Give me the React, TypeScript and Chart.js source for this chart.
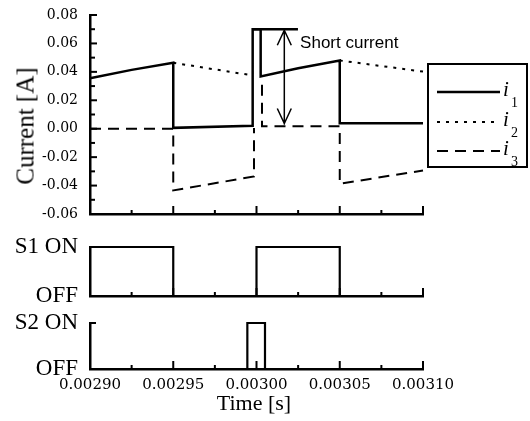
import React, { useEffect, useRef } from 'react';
import { Chart, registerables } from 'chart.js';

Chart.register(...registerables);

// ---------- data ----------
const i1Time = [0.0029, 0.002925, 0.00295, 0.00295, 0.0029977, 0.0029977, 0.0030025, 0.0030025, 0.003025, 0.00305, 0.00305, 0.0031];
const i1Value = [0.0355, 0.0414, 0.0464, 0.0006, 0.002, 0.07, 0.07, 0.0368, 0.0425, 0.048, 0.0038, 0.0038];

const i2Time = [0.00295, 0.0029977, 0.003025, 0.00305, 0.0031];
const i2Value = [0.0464, 0.0375, null, 0.048, 0.0402];

const i3Time = [0.0029, 0.00295, 0.00295, 0.0029985, 0.0029985, 0.003001, 0.0030033, 0.0030033, 0.00305, 0.00305, 0.0031];
const i3Value = [0.0, 0.0, -0.0434, -0.0336, 0.0005, null, 0.031, 0.0018, 0.0018, -0.0387, -0.0294];

const s1Time = [0.0029, 0.00295, 0.00295, 0.003, 0.003, 0.00305, 0.00305, 0.0031];
const s1State = [1, 1, 0, 0, 1, 1, 0, 0];

const s2Time = [0.0029, 0.0029945, 0.0029945, 0.0030051, 0.0030051, 0.0031];
const s2State = [0, 0, 1, 1, 0, 0];

const xTickValues = [0.0029, 0.00295, 0.003, 0.00305, 0.0031];
const xTickLabels = ['0.00290', '0.00295', '0.00300', '0.00305', '0.00310'];
const xMinorValues = [0.002925, 0.002975, 0.003025, 0.003075];

const currentTickValues = [-0.06, -0.04, -0.02, 0.0, 0.02, 0.04, 0.06, 0.08];
const currentTickLabels = ['-0.06', '-0.04', '-0.02', '0.00', '0.02', '0.04', '0.06', '0.08'];
const currentMinorValues = [-0.05, -0.03, -0.01, 0.01, 0.03, 0.05, 0.07];

const switchTickValues = [0, 1];
const s1TickLabels = ['OFF', 'S1 ON'];
const s2TickLabels = ['OFF', 'S2 ON'];

const seriesSubscripts = ['1', '2', '3'];

const shortLabel = 'Short current';
const shortArrowX = 0.0030167;
const shortTop = 0.07;
const shortBottom = 0.003;
const shortBarStart = 0.0029977;
const shortBarEnd = 0.0030249;
const shortTextX = 0.0030262;
const shortTextY = 0.0603;

// ---------- styles ----------
const BLACK = '#000';
const AXIS_W = 2.5;
const DASH_I2 = [3, 6];
const DASH_I3 = [11, 7];
const SERIF = '"Liberation Serif", "Times New Roman", serif';
const NUMFONT = '"DejaVu Serif", serif';

const pts = (t: number[], v: (number | null)[]) => t.map((x, i) => ({ x, y: v[i] }));

function ticksPlugin(cfg: { yMajor: number[]; yMinor: number[]; yMajorLen: number; yMinorLen: number }) {
  return {
    id: 'inwardTicks',
    afterDatasetsDraw(chart: any) {
      const ctx = chart.ctx;
      const { left, bottom } = chart.chartArea;
      const xs = chart.scales.x;
      const ys = chart.scales.y;
      ctx.save();
      ctx.strokeStyle = BLACK;
      ctx.lineWidth = 2;
      ctx.lineCap = 'butt';
      const vx = (vals: number[], len: number) =>
        vals.forEach((v) => {
          const p = xs.getPixelForValue(v);
          ctx.beginPath();
          ctx.moveTo(p, bottom);
          ctx.lineTo(p, bottom - len);
          ctx.stroke();
        });
      const vy = (vals: number[], len: number) =>
        vals.forEach((v) => {
          const p = ys.getPixelForValue(v);
          ctx.beginPath();
          ctx.moveTo(left, p);
          ctx.lineTo(left + len, p);
          ctx.stroke();
        });
      vx(xTickValues, 8);
      vx(xMinorValues, 4);
      vy(cfg.yMajor, cfg.yMajorLen);
      vy(cfg.yMinor, cfg.yMinorLen);
      ctx.restore();
    },
  };
}

const annotationPlugin = {
  id: 'shortCurrent',
  afterDatasetsDraw(chart: any) {
    const ctx = chart.ctx;
    const xs = chart.scales.x;
    const ys = chart.scales.y;
    const ax = xs.getPixelForValue(shortArrowX);
    const yt = ys.getPixelForValue(shortTop);
    const yb = ys.getPixelForValue(shortBottom);
    ctx.save();
    ctx.strokeStyle = BLACK;
    ctx.lineWidth = 2.5;
    ctx.beginPath();
    ctx.moveTo(xs.getPixelForValue(shortBarStart), yt);
    ctx.lineTo(xs.getPixelForValue(shortBarEnd), yt);
    ctx.stroke();
    ctx.lineWidth = 1.5;
    ctx.beginPath();
    ctx.moveTo(ax, yt);
    ctx.lineTo(ax, yb);
    ctx.moveTo(ax - 7, yt + 16);
    ctx.lineTo(ax, yt + 1);
    ctx.lineTo(ax + 7, yt + 16);
    ctx.moveTo(ax - 7, yb - 16);
    ctx.lineTo(ax, yb - 1);
    ctx.lineTo(ax + 7, yb - 16);
    ctx.stroke();
    ctx.fillStyle = BLACK;
    ctx.font = '17px "Liberation Sans", Arial, sans-serif';
    ctx.textAlign = 'left';
    ctx.textBaseline = 'middle';
    ctx.fillText(shortLabel, xs.getPixelForValue(shortTextX), ys.getPixelForValue(shortTextY));
    ctx.restore();
  },
};

function xScale(showLabels: boolean, height: number) {
  return {
    type: 'linear',
    min: 0.0029,
    max: 0.0031,
    afterBuildTicks: (s: any) => {
      s.ticks = xTickValues.map((v) => ({ value: v }));
    },
    afterFit: (s: any) => {
      s.height = height;
      s.paddingLeft = 0;
      s.paddingRight = 0;
      s.paddingTop = 0;
      s.paddingBottom = 0;
    },
    grid: { display: false, drawTicks: false },
    border: { display: true, color: BLACK, width: AXIS_W },
    ticks: {
      display: showLabels,
      autoSkip: false,
      maxRotation: 0,
      minRotation: 0,
      padding: 7,
      color: BLACK,
      font: { family: NUMFONT, size: 15 },
      callback: (_v: any, i: number) => xTickLabels[i],
    },
  };
}

function yScale(min: number, max: number, values: number[], labels: string[], font: any, padding: number) {
  return {
    type: 'linear',
    min,
    max,
    afterBuildTicks: (s: any) => {
      s.ticks = values.map((v) => ({ value: v }));
    },
    afterFit: (s: any) => {
      s.width = 90;
      s.paddingLeft = 0;
      s.paddingRight = 0;
      s.paddingTop = 0;
      s.paddingBottom = 0;
    },
    grid: { display: false, drawTicks: false },
    border: { display: true, color: BLACK, width: AXIS_W },
    ticks: {
      padding,
      color: BLACK,
      font,
      callback: (_v: any, i: number) => labels[i],
    },
  };
}

const common = {
  responsive: false,
  animation: false as const,
  devicePixelRatio: 1,
  events: [] as any[],
};

export default function App() {
  const topRef = useRef<HTMLCanvasElement>(null);
  const s1Ref = useRef<HTMLCanvasElement>(null);
  const s2Ref = useRef<HTMLCanvasElement>(null);

  useEffect(() => {
    const lineDefaults = {
      borderColor: BLACK,
      pointRadius: 0,
      tension: 0,
      fill: false,
      spanGaps: false,
      clip: false as const,
      borderJoinStyle: 'miter' as const,
      borderCapStyle: 'butt' as const,
    };
    const top = new Chart(topRef.current!, {
      type: 'line',
      data: {
        datasets: [
          { ...lineDefaults, label: 'i1', data: pts(i1Time, i1Value), borderWidth: 2.5 },
          { ...lineDefaults, label: 'i2', data: pts(i2Time, i2Value), borderWidth: 2, borderDash: DASH_I2 },
          { ...lineDefaults, label: 'i3', data: pts(i3Time, i3Value), borderWidth: 2, borderDash: DASH_I3 },
        ],
      },
      options: {
        ...common,
        layout: { padding: { top: 15, right: 107, left: 0, bottom: 0 } },
        plugins: { legend: { display: false }, tooltip: { enabled: false } },
        scales: {
          x: xScale(false, 8) as any,
          y: yScale(-0.06, 0.08, currentTickValues, currentTickLabels, { family: NUMFONT, size: 14 }, 12) as any,
        },
      },
      plugins: [
        ticksPlugin({ yMajor: currentTickValues, yMinor: currentMinorValues, yMajorLen: 7, yMinorLen: 5 }),
        annotationPlugin,
      ],
    } as any);

    const mkSwitch = (canvas: HTMLCanvasElement, t: number[], s: number[], labels: string[], padTop: number, xh: number, showX: boolean) =>
      new Chart(canvas, {
        type: 'line',
        data: {
          datasets: [{ ...lineDefaults, data: pts(t, s), borderWidth: 2.2 }],
        },
        options: {
          ...common,
          layout: { padding: { top: padTop, right: 107, left: 0, bottom: 0 } },
          plugins: { legend: { display: false }, tooltip: { enabled: false } },
          scales: {
            x: xScale(showX, xh) as any,
            y: yScale(0, 1, switchTickValues, labels, { family: SERIF, size: 23 }, 12) as any,
          },
        },
        plugins: [ticksPlugin({ yMajor: [1], yMinor: [], yMajorLen: 6, yMinorLen: 0 })],
      } as any);

    const c1 = mkSwitch(s1Ref.current!, s1Time, s1State, s1TickLabels, 17, 9, false);
    const c2 = mkSwitch(s2Ref.current!, s2Time, s2State, s2TickLabels, 18, 52, true);

    return () => {
      top.destroy();
      c1.destroy();
      c2.destroy();
    };
  }, []);

  const legendRows = [
    { y: 29, dash: undefined as string | undefined, w: 2.5 },
    { y: 59, dash: DASH_I2.join(' '), w: 2 },
    { y: 88, dash: DASH_I3.join(' '), w: 2 },
  ];

  return (
    <div style={{ position: 'absolute', left: 0, top: 0, width: 530, height: 421, background: '#fff', overflow: 'hidden' }}>
      <canvas ref={topRef} width={530} height={222} style={{ position: 'absolute', left: 0, top: 0 }} />
      <canvas ref={s1Ref} width={530} height={75} style={{ position: 'absolute', left: 0, top: 230 }} />
      <canvas ref={s2Ref} width={530} height={116} style={{ position: 'absolute', left: 0, top: 305 }} />
      <div
        style={{
          position: 'absolute',
          left: 25,
          top: 126,
          transform: 'translate(-50%, -50%) rotate(-90deg)',
          whiteSpace: 'nowrap',
          fontFamily: SERIF,
          fontSize: 25,
          lineHeight: 1,
          color: BLACK,
        }}
      >
        Current [A]
      </div>
      <div
        style={{
          position: 'absolute',
          left: 254,
          top: 403,
          transform: 'translate(-50%, -50%)',
          whiteSpace: 'nowrap',
          fontFamily: SERIF,
          fontSize: 22,
          lineHeight: 1,
          color: BLACK,
        }}
      >
        Time [s]
      </div>
      <svg width={102} height={106} style={{ position: 'absolute', left: 427, top: 63 }}>
        <rect x={1} y={1} width={99} height={103} fill="#fff" stroke={BLACK} strokeWidth={2} />
        {legendRows.map((r, i) => (
          <g key={i}>
            <line x1={10} y1={r.y} x2={73} y2={r.y} stroke={BLACK} strokeWidth={r.w} strokeDasharray={r.dash} />
            <text x={76} y={r.y + 4} fontFamily={SERIF} fontStyle="italic" fontSize={21} fill={BLACK}>
              i
            </text>
            <text x={84} y={r.y + 15} fontFamily={SERIF} fontSize={14} fill={BLACK}>
              {seriesSubscripts[i]}
            </text>
          </g>
        ))}
      </svg>
    </div>
  );
}
